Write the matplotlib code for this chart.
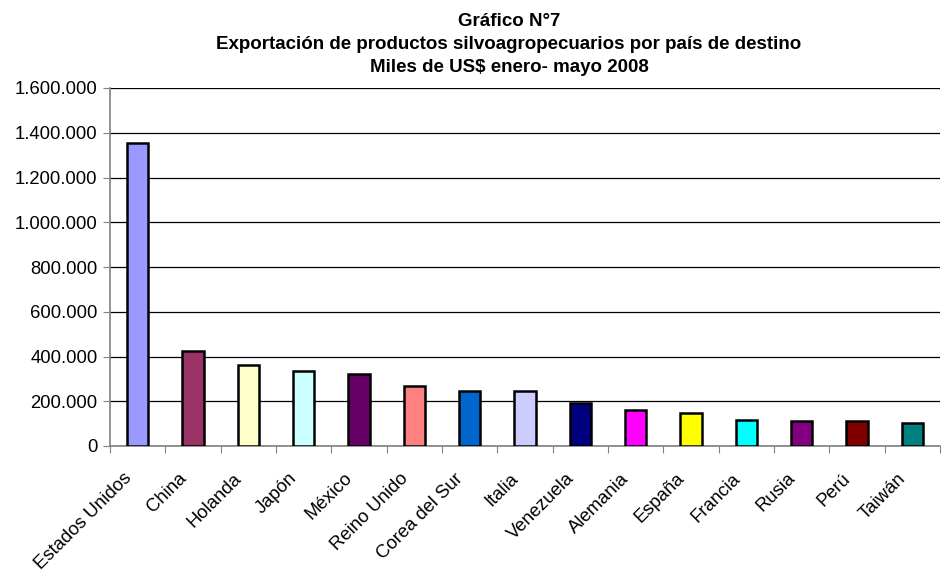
import matplotlib.pyplot as plt
import matplotlib.transforms as mtransforms
import numpy as np

plt.rcParams['font.family'] = ['Liberation Sans', 'DejaVu Sans']

# data
paises = ["Estados Unidos", "China", "Holanda", "Japón", "México", "Reino Unido",
          "Corea del Sur", "Italia", "Venezuela", "Alemania", "España", "Francia",
          "Rusia", "Perú", "Taiwán"]
valores = [1355000, 424000, 361000, 335000, 320000, 269000, 247000, 246000,
           191000, 161000, 147000, 116000, 113000, 113000, 101000]
colores = ["#9999FF", "#993366", "#FFFFCC", "#CCFFFF", "#660066", "#FF8080",
           "#0066CC", "#CCCCFF", "#000080", "#FF00FF", "#FFFF00", "#00FFFF",
           "#800080", "#800000", "#008080"]
yticks = [0, 200000, 400000, 600000, 800000, 1000000, 1200000, 1400000, 1600000]
titulo = ["Gráfico N°7",
          "Exportación de productos silvoagropecuarios por país de destino",
          "Miles de US$ enero- mayo 2008"]

fig = plt.figure(figsize=(9.48, 5.82), dpi=100)
ax = fig.add_axes([110/948, 1-446/582, 830/948, 358/582])

x = np.arange(len(paises))
ax.bar(x, valores, width=0.38, color=colores, edgecolor='black', linewidth=1.8, zorder=3)

ax.set_xlim(-0.5, len(paises)-0.5)
ax.set_ylim(0, 1600000)
ax.set_yticks(yticks)
ax.set_yticklabels([f"{v:,}".replace(",", ".") for v in yticks], fontsize=13.3)
ax.yaxis.grid(True, color='black', linewidth=0.9, zorder=0)

ax.set_xticks(np.arange(len(paises)+1)-0.5)
ax.set_xticklabels([])
ax.set_xticks(x, minor=True)
ax.set_xticklabels(paises, minor=True, rotation=45, ha='right', va='top',
                   rotation_mode='anchor', fontsize=13.3)
ax.tick_params(axis='x', which='minor', length=0, pad=10)
ax.tick_params(axis='x', which='major', length=5, direction='out', color='#808080')
ax.tick_params(axis='y', length=5, direction='out', color='#808080', pad=4)

# move labels a bit down-left like the original
offset = mtransforms.ScaledTranslation(-15/100, -10/100, fig.dpi_scale_trans)
for lab in ax.get_xticklabels(minor=True):
    lab.set_transform(lab.get_transform() + offset)

for s in ['top', 'right']:
    ax.spines[s].set_visible(False)
for s in ['left', 'bottom']:
    ax.spines[s].set_color('#808080')
    ax.spines[s].set_linewidth(1.2)

for i, t in enumerate(titulo):
    fig.text(509/948, 1-(21+23.5*i)/582, t, ha='center', va='center',
             fontsize=13.5, fontweight='bold')

fig.savefig("out.png", dpi=100)
